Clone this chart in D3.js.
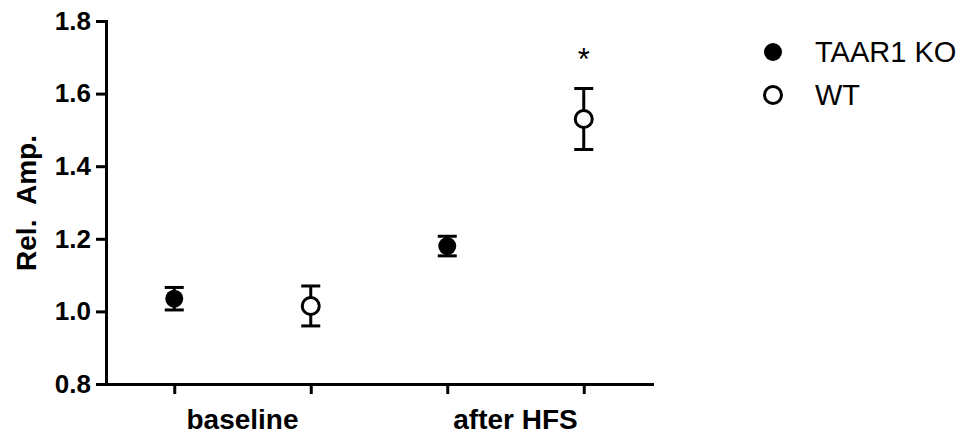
<!DOCTYPE html>
<html>
<head>
<meta charset="utf-8">
<script src="https://cdn.jsdelivr.net/npm/d3@7"></script>
<style>
  html, body { margin: 0; padding: 0; background: #fff; }
  svg { display: block; }
  text { font-family: "Liberation Sans", Arial, Helvetica, sans-serif; fill: #000; }
</style>
</head>
<body>
<svg id="chart" width="965" height="439"></svg>
<script>
// ---- data ----
const groups = ["baseline", "after HFS"];
const series = ["TAAR1 KO", "WT"];
const koMean = [1.035, 1.18];
const koSem = [0.031, 0.027];
const wtMean = [1.015, 1.53];
const wtSem = [0.055, 0.084];
const yTicks = [0.8, 1.0, 1.2, 1.4, 1.6, 1.8];
const slots = ["baseline|TAAR1 KO", "baseline|WT", "after HFS|TAAR1 KO", "after HFS|WT"];
const significance = [{ group: "after HFS", series: "WT", label: "*" }];

const points = [];
groups.forEach((g, i) => {
  points.push({ group: g, series: "TAAR1 KO", mean: koMean[i], sem: koSem[i] });
  points.push({ group: g, series: "WT", mean: wtMean[i], sem: wtSem[i] });
});

const svg = d3.select("#chart");
const x = d3.scalePoint().domain(slots).range([106, 652]).padding(0.5);
const y = d3.scaleLinear().domain([0.8, 1.8]).range([384, 21]);

// axes
const yAxis = svg.append("g").attr("transform", "translate(106,0)")
  .call(d3.axisLeft(y).tickValues(yTicks).tickFormat(d3.format(".1f")).tickSize(10).tickSizeOuter(0).tickPadding(5));
const xAxis = svg.append("g").attr("transform", "translate(0,384)")
  .call(d3.axisBottom(x).tickFormat("").tickSize(10).tickSizeOuter(0));

[yAxis, xAxis].forEach(a => {
  a.select(".domain").attr("stroke", "#000").attr("stroke-width", 3).attr("stroke-linecap", "square");
  a.selectAll(".tick line").attr("stroke", "#000").attr("stroke-width", 3);
});
yAxis.selectAll(".tick text")
  .style("font-family", '"Liberation Sans", Arial, sans-serif')
  .style("font-weight", "bold").style("font-size", "26px").attr("fill", "#000");

// group labels
svg.selectAll(".glabel").data(groups).join("text")
  .attr("class", "glabel")
  .attr("x", g => (x(g + "|TAAR1 KO") + x(g + "|WT")) / 2)
  .attr("y", 429)
  .attr("text-anchor", "middle")
  .style("font-weight", "bold").style("font-size", "28px")
  .text(g => g);

// y title
svg.append("text")
  .attr("transform", "translate(36,203) rotate(-90)")
  .attr("text-anchor", "middle")
  .style("font-weight", "bold").style("font-size", "28px")
  .style("white-space", "pre")
  .text("Rel.  Amp.");

// error bars
const eb = svg.append("g").attr("stroke", "#000").attr("stroke-width", 3);
points.forEach(p => {
  const cx = x(p.group + "|" + p.series);
  eb.append("line").attr("x1", cx).attr("x2", cx).attr("y1", y(p.mean - p.sem)).attr("y2", y(p.mean + p.sem));
  [p.mean - p.sem, p.mean + p.sem].forEach(v => {
    eb.append("line").attr("x1", cx - 9.5).attr("x2", cx + 9.5).attr("y1", y(v)).attr("y2", y(v));
  });
});

// markers
svg.selectAll(".pt").data(points).join("circle")
  .attr("class", "pt")
  .attr("cx", p => x(p.group + "|" + p.series))
  .attr("cy", p => y(p.mean))
  .attr("r", p => p.series === "WT" ? 8.5 : 9)
  .attr("fill", p => p.series === "WT" ? "#fff" : "#000")
  .attr("stroke", "#000")
  .attr("stroke-width", p => p.series === "WT" ? 3 : 0);

// significance
significance.forEach(s => {
  const pt = points.find(p => p.group === s.group && p.series === s.series);
  svg.append("text")
    .attr("x", x(s.group + "|" + s.series))
    .attr("y", y(pt.mean + pt.sem) - 19)
    .attr("text-anchor", "middle")
    .style("font-size", "31px")
    .text(s.label);
});

// legend
const leg = svg.append("g");
series.forEach((s, i) => {
  const cy = 52 + i * 43;
  leg.append("circle").attr("cx", 773).attr("cy", cy)
    .attr("r", s === "WT" ? 8.5 : 9)
    .attr("fill", s === "WT" ? "#fff" : "#000")
    .attr("stroke", "#000").attr("stroke-width", s === "WT" ? 3 : 0);
  leg.append("text").attr("x", 815).attr("y", cy + 10)
    .style("font-size", "29px").text(s);
});
</script>
</body>
</html>
